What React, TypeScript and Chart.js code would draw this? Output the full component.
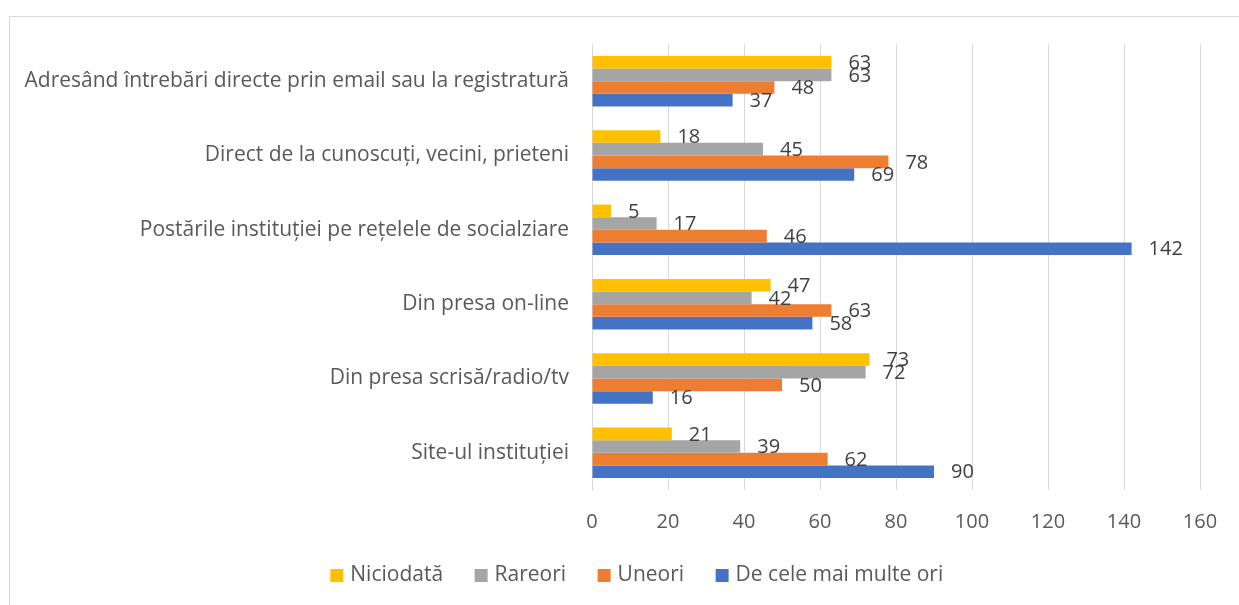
import React, { useEffect, useRef } from "react";
import { Chart, registerables } from "chart.js";

Chart.register(...registerables);

const categories = [
  "Adresând întrebări directe prin email sau la registratură",
  "Direct de la cunoscuți, vecini, prieteni",
  "Postările instituției pe rețelele de socialziare",
  "Din presa on-line",
  "Din presa scrisă/radio/tv",
  "Site-ul instituției",
];
const seriesNames = ["Niciodată", "Rareori", "Uneori", "De cele mai multe ori"];
const niciodata = [63, 18, 5, 47, 73, 21];
const rareori = [63, 45, 17, 42, 72, 39];
const uneori = [48, 78, 46, 63, 50, 62];
const deCeleMaiMulteOri = [37, 69, 142, 58, 16, 90];
const xTickValues = [0, 20, 40, 60, 80, 100, 120, 140, 160];
const seriesColors = ["#FFC000", "#A5A5A5", "#ED7D31", "#4472C4"];

const FONT = '"Open Sans", "DejaVu Sans", sans-serif';

const barLabelPlugin = {
  id: "barLabels",
  afterDatasetsDraw(chart: any) {
    const ctx = chart.ctx;
    ctx.save();
    ctx.font = `20px ${FONT}`;
    ctx.fillStyle = "#404040";
    ctx.textAlign = "left";
    ctx.textBaseline = "middle";
    chart.data.datasets.forEach((ds: any, i: number) => {
      const meta = chart.getDatasetMeta(i);
      meta.data.forEach((bar: any, j: number) => {
        ctx.fillText(String(ds.data[j]), bar.x + 17, bar.y + 1);
      });
    });
    ctx.restore();
  },
};

// shift the centred legend to sit under the middle of the whole frame, as in the reference
const legendShiftPlugin = {
  id: "legendShift",
  afterLayout(chart: any) {
    if (chart.legend) {
      chart.legend.left += 35;
      chart.legend.right += 35;
    }
  },
};

// legend marker: a 13px square placed close to its text
function makeMarker(color: string): HTMLCanvasElement {
  const c = document.createElement("canvas");
  c.width = 40;
  c.height = 13;
  const g = c.getContext("2d");
  if (g) {
    g.fillStyle = color;
    g.fillRect(17, 0, 13, 13);
  }
  return c;
}

export default function App() {
  const ref = useRef<HTMLCanvasElement | null>(null);

  useEffect(() => {
    if (!ref.current) return;
    const values = [niciodata, rareori, uneori, deCeleMaiMulteOri];
    const markers = seriesColors.map(makeMarker);
    const chart = new Chart(ref.current, {
      type: "bar",
      data: {
        labels: categories,
        datasets: seriesNames.map((name, i) => ({
          label: name,
          data: values[i],
          backgroundColor: seriesColors[i],
          borderWidth: 0,
          barPercentage: 1,
          categoryPercentage: 0.68,
        })),
      },
      options: {
        indexAxis: "y",
        animation: false,
        responsive: false,
        layout: { padding: { left: 0, right: 39, top: 44, bottom: 0 } },
        plugins: {
          legend: {
            position: "bottom",
            labels: {
              usePointStyle: true,
              pointStyleWidth: 13,
              boxWidth: 13,
              boxHeight: 13,
              padding: 28,
              color: "#595959",
              font: { family: FONT, size: 21 },
              generateLabels(chart: any) {
                const items = Chart.defaults.plugins.legend.labels.generateLabels(chart);
                return items.map((it: any, i: number) => ({ ...it, pointStyle: markers[i] }));
              },
            },
          },
          tooltip: { enabled: false },
        },
        scales: {
          x: {
            min: 0,
            max: 160,
            afterBuildTicks(scale: any) {
              scale.ticks = xTickValues.map((v) => ({ value: v }));
            },
            ticks: {
              color: "#595959",
              font: { family: FONT, size: 20 },
              padding: 20,
            },
            grid: { color: "#D9D9D9", lineWidth: 1, drawTicks: false },
            border: { display: false },
            afterFit(scale: any) {
              scale.height = 47;
            },
          },
          y: {
            ticks: {
              color: "#595959",
              font: { family: FONT, size: 21 },
              padding: 23,
            },
            grid: { display: false, drawTicks: false },
            border: { display: true, color: "#D9D9D9" },
            afterFit(scale: any) {
              scale.width = 592;
            },
          },
        },
      },
      plugins: [barLabelPlugin, legendShiftPlugin],
    } as any);
    return () => chart.destroy();
  }, []);

  return (
    <div
      style={{
        position: "fixed",
        left: 0,
        top: 0,
        width: 1239,
        height: 605,
        background: "#fff",
        overflow: "hidden",
      }}
    >
      <div
        style={{
          position: "absolute",
          left: 9,
          top: 16,
          width: 1300,
          height: 700,
          borderLeft: "1px solid #D9D9D9",
          borderTop: "1px solid #D9D9D9",
        }}
      />
      <canvas
        ref={ref}
        width={1239}
        height={596}
        style={{ position: "absolute", left: 0, top: 0, width: 1239, height: 596 }}
      />
    </div>
  );
}
